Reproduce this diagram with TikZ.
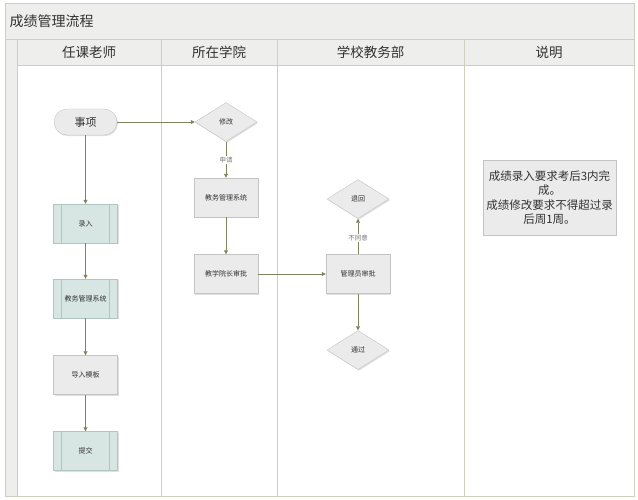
\documentclass[tikz,border=0pt]{standalone}
\usepackage{fontspec}
\setmainfont{Noto Sans CJK SC}
\usetikzlibrary{shapes.geometric,arrows.meta,shadows}
\definecolor{laneBorder}{RGB}{208,206,190}
\definecolor{laneFill}{RGB}{238,238,236}
\definecolor{boxFill}{RGB}{235,235,235}
\definecolor{boxBorder}{RGB}{196,196,196}
\definecolor{subFill}{RGB}{215,230,226}
\definecolor{subBorder}{RGB}{176,198,192}
\definecolor{flowLine}{RGB}{128,132,92}
\definecolor{textDark}{RGB}{50,50,50}
\definecolor{textGray}{RGB}{120,120,120}
\begin{document}
\begin{tikzpicture}[
            x=1pt, y=-1pt,
            boxShadow/.style={drop shadow={opacity=0.25, shadow xshift=1pt, shadow yshift=-1.2pt}},
            termNode/.style={rectangle, rounded corners=13pt, draw=boxBorder, fill=boxFill, boxShadow,
            minimum width=63pt, minimum height=26pt, font=\fontsize{11}{13}\selectfont, text=textDark},
            procNode/.style={rectangle, draw=boxBorder, fill=boxFill, boxShadow,
            minimum width=64pt, minimum height=39pt, inner sep=1pt, font=\fontsize{7}{9}\selectfont, text=textDark},
            subNode/.style={procNode, draw=subBorder, fill=subFill,
            path picture={\draw[subBorder] ([xshift=8pt]path picture bounding box.north west) -- ([xshift=8pt]path picture bounding box.south west);
            \draw[subBorder] ([xshift=-8pt]path picture bounding box.north east) -- ([xshift=-8pt]path picture bounding box.south east);}},
            decNode/.style={diamond, draw=boxBorder, fill=boxFill, boxShadow, inner sep=0pt,
            minimum width=62pt, minimum height=39pt, font=\fontsize{7}{9}\selectfont, text=textDark},
            noteNode/.style={rectangle, draw=boxBorder, fill=boxFill, boxShadow, align=center,
            minimum width=133pt, minimum height=75pt, font=\fontsize{11.5}{14.5}\selectfont, text=textDark},
            headText/.style={font=\fontsize{13.5}{16}\selectfont, text=textDark},
            edgeLabel/.style={fill=white, inner sep=1pt, font=\fontsize{6.5}{8}\selectfont, text=textGray},
            arrow/.style={flowLine, thick, -{Triangle[length=4pt, width=4pt]}},
        ]
        \useasboundingbox (0,0) rectangle (638,500);
        % swimlane frame
        \fill[laneFill] (5,3) rectangle (634,39);
        \fill[laneFill] (5,39) rectangle (17,496);
        \fill[laneFill] (17,39) rectangle (634,65);
        \draw[laneBorder, thick] (5,3) rectangle (634,496);
        \draw[laneBorder, thick] (5,39) -- (634,39);
        \draw[laneBorder, thick] (17,65) -- (634,65);
        \foreach \laneX in {17,161,277,464}
            \draw[laneBorder, thick] (\laneX,39) -- (\laneX,496);
        \node[anchor=west, font=\fontsize{14}{16}\selectfont, text=textDark] (titleText) at (6,21) {成绩管理流程};
        \node[headText] (headTeacher) at (89,52)    {任课老师};
        \node[headText] (headCollege) at (219,52)   {所在学院};
        \node[headText] (headOffice)  at (370.5,52) {学校教务部};
        \node[headText] (headNote)    at (549,52)   {说明};
        % teacher lane
        \node[termNode] (matter) at (85.5,122) {事项};
            \path (matter) ++(0,101.5) node[subNode] (enterScore) {录入};
            \path (enterScore) ++(0,75) node[subNode] (teacherSys) {教务管理系统};
            \path (teacherSys) ++(0,76.5) node[procNode] (importTpl) {导入模板};
            \path (importTpl) ++(0,76) node[subNode] (submitScore) {提交};
        % college lane
        \node[decNode] (modify) at (226,122) {修改};
            \path (modify) ++(0,75.5) node[procNode] (collegeSys) {教务管理系统};
            \path (collegeSys) ++(0,76.5) node[procNode] (deanCheck) {教学院长审批};
        % office lane
        \node[procNode] (adminCheck) at (358,274) {管理员审批};
            \path (adminCheck) ++(0,-75) node[decNode] (sendBack) {退回};
            \path (adminCheck) ++(0,76) node[decNode] (passed) {通过};
        % note lane
        \node[noteNode] (remark) at (549.5,197.5) {成绩录入要求考后3内完\\成。\\成绩修改要求不得超过录\\后周1周。};
        % connectors
        \draw[arrow] (matter) -- (modify);
        \draw[arrow] (matter) -- (enterScore);
        \draw[arrow] (enterScore) -- (teacherSys);
        \draw[arrow] (teacherSys) -- (importTpl);
        \draw[arrow] (importTpl) -- (submitScore);
        \draw[arrow] (modify) -- node[edgeLabel] (applyLabel) {申请} (collegeSys);
        \draw[arrow] (collegeSys) -- (deanCheck);
        \draw[arrow] (deanCheck) -- (adminCheck);
        \draw[arrow] (adminCheck) -- node[edgeLabel, pos=0.45] (rejectLabel) {不同意} (sendBack);
        \draw[arrow] (adminCheck) -- (passed);
    \end{tikzpicture}
\end{document}
